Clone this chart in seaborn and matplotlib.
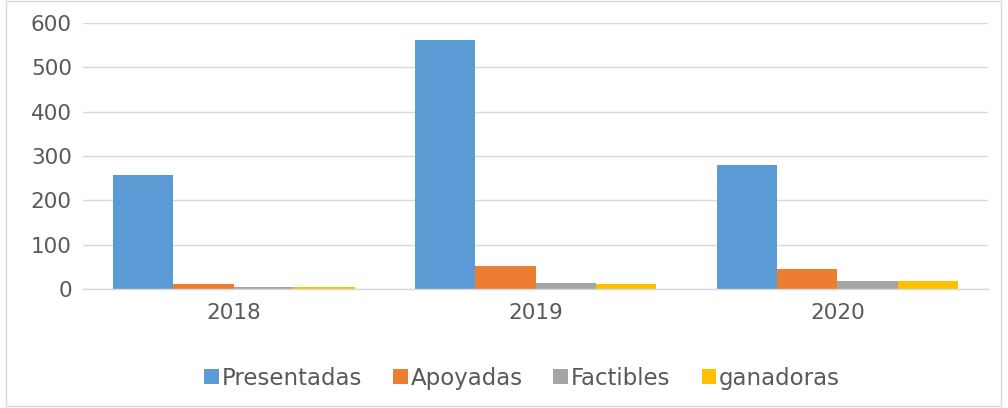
import matplotlib
matplotlib.use("Agg")
import matplotlib.pyplot as plt
import seaborn as sns
import pandas as pd
from matplotlib.patches import Rectangle

years = ["2018", "2019", "2020"]
series = ["Presentadas", "Apoyadas", "Factibles", "ganadoras"]
presentadas = [256, 562, 280]
apoyadas = [11, 52, 46]
factibles = [5, 13, 17]
ganadoras = [4, 12, 17]
colors = ["#5B9BD5", "#ED7D31", "#A5A5A5", "#FFC000"]
yticks = [0, 100, 200, 300, 400, 500, 600]

rows = []
for name, vals in zip(series, [presentadas, apoyadas, factibles, ganadoras]):
    for y, v in zip(years, vals):
        rows.append({"year": y, "serie": name, "value": v})
df = pd.DataFrame(rows)

sns.set_theme(style="white")
plt.rcParams["font.family"] = ["DejaVu Sans"]

fig = plt.figure(figsize=(10.08, 4.08), dpi=100)
ax = fig.add_axes([0.0823, 0.2917, 0.898, 0.652])
sns.barplot(data=df, x="year", y="value", hue="serie", hue_order=series,
            palette=colors, width=0.8, saturation=1, ax=ax, errorbar=None,
            linewidth=0)

ax.set_ylim(0, 600)
ax.set_yticks(yticks)
ax.set_yticklabels([str(t) for t in yticks])
ax.yaxis.grid(True, color="#D9D9D9", linewidth=1)
ax.set_axisbelow(True)
for s in ["left", "right", "top"]:
    ax.spines[s].set_visible(False)
ax.spines["bottom"].set_color("#D9D9D9")
ax.spines["bottom"].set_linewidth(1)
ax.set_xlabel("")
ax.set_ylabel("")
ax.tick_params(axis="both", colors="#595959", labelsize=15.5, length=0)
ax.tick_params(axis="y", pad=8)
ax.tick_params(axis="x", pad=10)

leg = ax.legend(loc="center", bbox_to_anchor=(0.485, -0.335), ncol=4,
                frameon=False, fontsize=16.5, handlelength=0.65, handleheight=0.65,
                handletextpad=0.12, columnspacing=1.35)
for t in leg.get_texts():
    t.set_color("#595959")

fig.patches.append(Rectangle((0.006, 0.004), 0.987, 0.994, transform=fig.transFigure,
                             fill=False, edgecolor="#D9D9D9", linewidth=1))
fig.savefig("out.png", dpi=100)
